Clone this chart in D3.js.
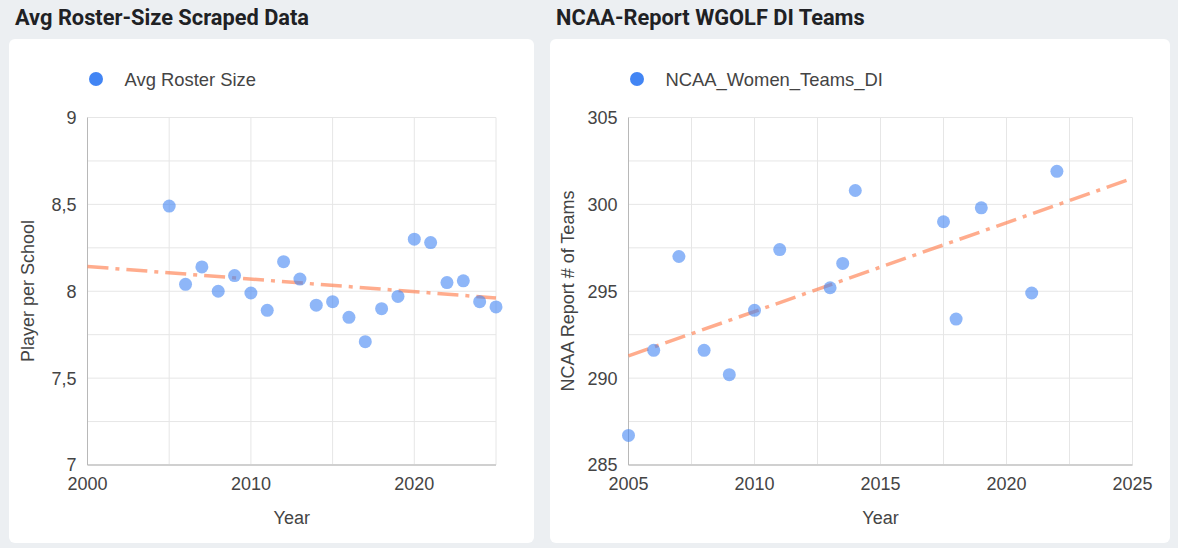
<!DOCTYPE html>
<html>
<head>
<meta charset="utf-8">
<script src="https://cdn.jsdelivr.net/npm/d3@7"></script>
<style>
  html, body { margin: 0; padding: 0; background: #eceff2; }
  svg { display: block; }
</style>
</head>
<body>
<svg id="chart" width="1178" height="548"></svg>
<script>
// ---------- Data ----------
const rosterYears  = [2005, 2006, 2007, 2008, 2009, 2010, 2011, 2012, 2013, 2014, 2015, 2016, 2017, 2018, 2019, 2020, 2021, 2022, 2023, 2024, 2025];
const rosterValues = [8.49, 8.04, 8.14, 8.00, 8.09, 7.99, 7.89, 8.17, 8.07, 7.92, 7.94, 7.85, 7.71, 7.90, 7.97, 8.30, 8.28, 8.05, 8.06, 7.94, 7.91];

const ncaaYears = [2005, 2006, 2007, 2008, 2009, 2010, 2011, 2013, 2013.5, 2014, 2017.5, 2018, 2019, 2021, 2022];
const ncaaTeams = [286.7, 291.6, 297.0, 291.6, 290.2, 293.9, 297.4, 295.2, 296.6, 300.8, 299.0, 293.4, 299.8, 294.9, 301.9];

const rosterXTicks = [2000, 2010, 2020];
const rosterXGrid  = [2000, 2005, 2010, 2015, 2020, 2025];
const rosterYTicks = [7, 7.5, 8, 8.5, 9];
const rosterYGrid  = [7, 7.25, 7.5, 7.75, 8, 8.25, 8.5, 8.75, 9];

const ncaaXTicks = [2005, 2010, 2015, 2020, 2025];
const ncaaXGrid  = [2005, 2007.5, 2010, 2012.5, 2015, 2017.5, 2020, 2022.5, 2025];
const ncaaYTicks = [285, 290, 295, 300, 305];
const ncaaYGrid  = [285, 287.5, 290, 292.5, 295, 297.5, 300, 302.5, 305];

const titles      = ["Avg Roster-Size Scraped Data", "NCAA-Report WGOLF DI Teams"];
const seriesNames = ["Avg Roster Size", "NCAA_Women_Teams_DI"];
const yTitles     = ["Player per School", "NCAA Report # of Teams"];
const xTitle      = "Year";

// ---------- Drawing ----------
const svg = d3.select("#chart");
const fmt = v => String(v).replace(".", ",");

function linreg(xs, ys) {
  const n = xs.length;
  const mx = d3.mean(xs), my = d3.mean(ys);
  let sxy = 0, sxx = 0;
  for (let i = 0; i < n; i++) { sxy += (xs[i] - mx) * (ys[i] - my); sxx += (xs[i] - mx) ** 2; }
  const b = sxy / sxx;
  return x => my + b * (x - mx);
}

function panel(cfg) {
  const g = svg.append("g");
  // title
  g.append("text").attr("x", cfg.titleX).attr("y", 25)
    .attr("font-family", "Roboto, 'Noto Sans', sans-serif").attr("font-weight", 700)
    .attr("font-size", 21.8).attr("fill", "#202124").text(cfg.title);
  // card
  g.append("rect").attr("x", cfg.card[0]).attr("y", cfg.card[1])
    .attr("width", cfg.card[2]).attr("height", cfg.card[3])
    .attr("rx", 6).attr("fill", "#ffffff");

  const x = d3.scaleLinear().domain(cfg.xDomain).range([cfg.plot[0], cfg.plot[1]]);
  const y = d3.scaleLinear().domain(cfg.yDomain).range([cfg.plot[3], cfg.plot[2]]);

  // legend
  g.append("circle").attr("cx", cfg.legendX).attr("cy", 79).attr("r", 7).attr("fill", "#4285f4");
  g.append("text").attr("x", cfg.legendX + 28.5).attr("y", 86)
    .attr("font-family", "'Liberation Sans', Arial, sans-serif").attr("font-size", 18.4)
    .attr("fill", "#444").text(cfg.name);

  // grid
  g.append("g").selectAll("line").data(cfg.yGrid).join("line")
    .attr("x1", x.range()[0]).attr("x2", x.range()[1])
    .attr("y1", d => y(d)).attr("y2", d => y(d))
    .attr("stroke", "#e6e6e6").attr("stroke-width", 1);
  g.append("g").selectAll("line").data(cfg.xGrid).join("line")
    .attr("y1", y.range()[0]).attr("y2", y.range()[1])
    .attr("x1", d => x(d)).attr("x2", d => x(d))
    .attr("stroke", "#e6e6e6").attr("stroke-width", 1);

  // axes lines
  g.append("line").attr("x1", x.range()[0]).attr("x2", x.range()[1])
    .attr("y1", y.range()[0]).attr("y2", y.range()[0])
    .attr("stroke", "#d0d0d0").attr("stroke-width", 2);
  g.append("line").attr("x1", x.range()[0]).attr("x2", x.range()[0])
    .attr("y1", y.range()[0]).attr("y2", y.range()[1])
    .attr("stroke", "#b8b8b8").attr("stroke-width", 1);

  // tick labels
  g.append("g").selectAll("text").data(cfg.yTicks).join("text")
    .attr("x", x.range()[0] - 11).attr("y", d => y(d)).attr("dy", "0.36em")
    .attr("text-anchor", "end")
    .attr("font-family", "'Liberation Sans', Arial, sans-serif").attr("font-size", 18)
    .attr("fill", "#444").text(d => fmt(d));
  g.append("g").selectAll("text").data(cfg.xTicks).join("text")
    .attr("x", d => x(d)).attr("y", 490)
    .attr("text-anchor", "middle")
    .attr("font-family", "'Liberation Sans', Arial, sans-serif").attr("font-size", 18)
    .attr("fill", "#444").text(d => d);

  // axis titles
  g.append("text").attr("x", (x.range()[0] + x.range()[1]) / 2).attr("y", 524)
    .attr("text-anchor", "middle")
    .attr("font-family", "'Liberation Sans', Arial, sans-serif").attr("font-size", 18)
    .attr("fill", "#444").text(xTitle);
  g.append("text")
    .attr("transform", `translate(${cfg.yTitleX},291) rotate(-90)`)
    .attr("text-anchor", "middle")
    .attr("font-family", "'Liberation Sans', Arial, sans-serif").attr("font-size", 18)
    .attr("fill", "#444").text(cfg.yTitle);

  // trend line
  const f = linreg(cfg.xs, cfg.ys);
  const line = d3.line().x(d => x(d)).y(d => y(f(d)));
  g.append("path").attr("d", line(cfg.xDomain))
    .attr("fill", "none").attr("stroke", "#ff7f50").attr("stroke-opacity", 0.65)
    .attr("stroke-width", 3.5).attr("stroke-dasharray", "21 7 4 7");

  // points
  g.append("g").selectAll("circle").data(cfg.xs.map((d, i) => [d, cfg.ys[i]])).join("circle")
    .attr("cx", d => x(d[0])).attr("cy", d => y(d[1])).attr("r", 6.5)
    .attr("fill", "#4285f4").attr("fill-opacity", 0.6);
}

panel({
  title: titles[0], titleX: 15, card: [9, 39, 525, 504],
  plot: [87.5, 496, 117.5, 465], xDomain: [2000, 2025], yDomain: [7, 9],
  xTicks: rosterXTicks, xGrid: rosterXGrid, yTicks: rosterYTicks, yGrid: rosterYGrid,
  legendX: 96, name: seriesNames[0], yTitle: yTitles[0], yTitleX: 34,
  xs: rosterYears, ys: rosterValues
});

panel({
  title: titles[1], titleX: 556, card: [550, 39, 620, 504],
  plot: [628.5, 1132.5, 117.5, 465], xDomain: [2005, 2025], yDomain: [285, 305],
  xTicks: ncaaXTicks, xGrid: ncaaXGrid, yTicks: ncaaYTicks, yGrid: ncaaYGrid,
  legendX: 637, name: seriesNames[1], yTitle: yTitles[1], yTitleX: 574,
  xs: ncaaYears, ys: ncaaTeams
});
</script>
</body>
</html>
